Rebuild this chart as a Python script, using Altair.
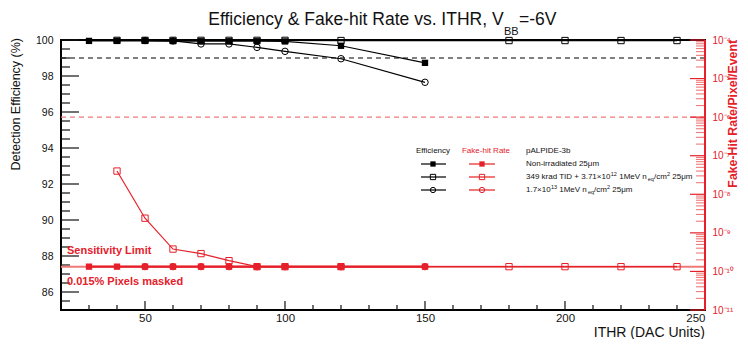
import altair as alt
import pandas as pd

# ---------------- data ----------------
ithr_nonirr = [30, 40, 50, 60, 70, 80, 90, 100, 120, 150]
eff_nonirr = [99.95, 99.95, 99.95, 99.94, 99.93, 99.93, 99.93, 99.92, 99.68, 98.73]
fhr_nonirr = [1.33e-10, 1.33e-10, 1.33e-10, 1.33e-10, 1.33e-10, 1.33e-10, 1.33e-10, 1.33e-10, 1.33e-10, 1.33e-10]

ithr_tid = [40, 50, 60, 70, 80, 90, 100, 120, 180, 200, 220, 240]
eff_tid = [99.98, 99.98, 99.98, 99.98, 99.98, 99.98, 99.98, 99.97, 99.97, 99.97, 99.97, 99.97]
fhr_tid = [4.0e-8, 2.4e-9, 3.8e-10, 2.9e-10, 1.9e-10, 1.33e-10, 1.33e-10, 1.33e-10, 1.33e-10, 1.33e-10, 1.33e-10, 1.33e-10]

ithr_neq = [50, 60, 70, 80, 90, 100, 120, 150]
eff_neq = [99.97, 99.95, 99.78, 99.78, 99.59, 99.37, 98.96, 97.65]
fhr_neq = [1.33e-10, 1.33e-10, 1.33e-10, 1.33e-10, 1.33e-10, 1.33e-10, 1.33e-10, 1.33e-10]

eff_target = [99.0]
fhr_target = [1e-6]
fhr_limit = [1.33e-10]

x_major = [50, 100, 150, 200, 250]
x_minor = [30, 40, 60, 70, 80, 90, 110, 120, 130, 140, 160, 170, 180, 190, 210, 220, 230, 240]
eff_major = [86, 88, 90, 92, 94, 96, 98, 100]
eff_minor = [85.5, 86.5, 87, 87.5, 88.5, 89, 89.5, 90.5, 91, 91.5, 92.5, 93, 93.5,
             94.5, 95, 95.5, 96.5, 97, 97.5, 98.5, 99, 99.5]
decades = [1e-11, 1e-10, 1e-9, 1e-8, 1e-7, 1e-6, 1e-5, 1e-4]
decade_labels = ["10⁻¹¹", "10⁻¹⁰", "10⁻⁹", "10⁻⁸", "10⁻⁷", "10⁻⁶", "10⁻⁵", "10⁻⁴"]
fhr_minor = [m * d for d in decades[:-1] for m in range(2, 10)]

# ---------------- styling ----------------
FONT = "Liberation Sans"
RED = "#e5202a"
LRED = "#f07a7a"
W, H = 644, 270

X = alt.X("ithr:Q", scale=alt.Scale(domain=[20, 250], nice=False, zero=False),
          axis=alt.Axis(values=x_major, title=None, ticks=False, tickSize=0, domain=False,
                        grid=False, labelFontSize=11.5, labelPadding=2, labelColor="#111",
                        labelFont=FONT))
YL = alt.Y("eff:Q", scale=alt.Scale(domain=[85, 100], nice=False, zero=False),
           axis=alt.Axis(orient="left", values=eff_major, title=None, ticks=False, tickSize=0,
                         domain=False, grid=False, labelFontSize=10.5, labelPadding=8,
                         labelColor="#111", labelFont=FONT, format="d"))

exp_e = "round(log(datum.value)/LN10)"
label_expr = " : ".join(
    f"{exp_e} == {e} ? '{lab}'" for e, lab in zip(range(-11, -3), decade_labels)) + " : ''"
YR = alt.Y("fhr:Q", scale=alt.Scale(type="log", domain=[1e-11, 1e-4], nice=False),
           axis=alt.Axis(orient="right", values=decades, title=None, ticks=False, tickSize=0,
                         domain=False, grid=False, labelFontSize=10, labelPadding=7,
                         labelColor=RED, labelFont=FONT, labelExpr=label_expr))

dummy = pd.DataFrame({"d": [0]})


def txt(text, x, y, size, color="#111", bold=False, align="left", angle=0, baseline="middle"):
    kw = dict(text=text, font=FONT, fontSize=size, color=color, align=align,
              baseline=baseline, angle=angle)
    if bold:
        kw["fontWeight"] = "bold"
    return alt.Chart(dummy).mark_text(**kw).encode(x=alt.value(x), y=alt.value(y))


# ---------------- efficiency (left axis) ----------------
df_e1 = pd.DataFrame({"ithr": ithr_nonirr, "eff": eff_nonirr})
df_e2 = pd.DataFrame({"ithr": ithr_tid, "eff": eff_tid})
df_e3 = pd.DataFrame({"ithr": ithr_neq, "eff": eff_neq})

left_layers = [
    alt.Chart(pd.DataFrame({"eff": eff_target})).mark_rule(color="#555", strokeWidth=1.3,
                                                          strokeDash=[5, 4]).encode(y=YL),
    alt.Chart(df_e2).mark_line(color="black", strokeWidth=1.2).encode(x=X, y=YL),
    alt.Chart(df_e3).mark_line(color="black", strokeWidth=1.2).encode(x=X, y=YL),
    alt.Chart(df_e1).mark_line(color="black", strokeWidth=1.2).encode(x=X, y=YL),
    alt.Chart(df_e2).mark_point(shape="square", filled=False, size=40, color="black",
                                strokeWidth=1, opacity=1).encode(x=X, y=YL),
    alt.Chart(df_e3).mark_point(shape="circle", filled=False, size=42, color="black",
                                strokeWidth=1, opacity=1).encode(x=X, y=YL),
    alt.Chart(df_e1).mark_point(shape="square", filled=True, size=40, color="black",
                                opacity=1).encode(x=X, y=YL),
    # left axis ticks (inward)
    alt.Chart(pd.DataFrame({"eff": eff_major})).mark_rule(color="#111", strokeWidth=1.2)
    .encode(y=YL, x=alt.value(0), x2=alt.value(18)),
    alt.Chart(pd.DataFrame({"eff": eff_minor})).mark_rule(color="#111", strokeWidth=1.2)
    .encode(y=YL, x=alt.value(0), x2=alt.value(9)),
    # x axis ticks (inward)
    alt.Chart(pd.DataFrame({"ithr": x_major})).mark_rule(color="#111", strokeWidth=1.2)
    .encode(x=X, y=alt.value(H), y2=alt.value(H - 9)),
    alt.Chart(pd.DataFrame({"ithr": x_minor})).mark_rule(color="#111", strokeWidth=1.2)
    .encode(x=X, y=alt.value(H), y2=alt.value(H - 5)),
]

# ---------------- fake-hit rate (right axis) ----------------
df_f1 = pd.DataFrame({"ithr": ithr_nonirr, "fhr": fhr_nonirr})
df_f2 = pd.DataFrame({"ithr": ithr_tid, "fhr": fhr_tid})
df_f3 = pd.DataFrame({"ithr": ithr_neq, "fhr": fhr_neq})

right_layers = [
    alt.Chart(pd.DataFrame({"fhr": fhr_target})).mark_rule(color=LRED, strokeWidth=1.3,
                                                          strokeDash=[5, 4]).encode(y=YR),
    alt.Chart(pd.DataFrame({"fhr": fhr_limit})).mark_rule(color=LRED, strokeWidth=2).encode(y=YR),
    alt.Chart(df_f2).mark_line(color=RED, strokeWidth=1.2).encode(x=X, y=YR),
    alt.Chart(df_f3).mark_line(color=RED, strokeWidth=1.2).encode(x=X, y=YR),
    alt.Chart(df_f1).mark_line(color=RED, strokeWidth=2.2).encode(x=X, y=YR),
    alt.Chart(df_f2).mark_point(shape="square", filled=False, size=40, color=RED,
                                strokeWidth=1, opacity=1).encode(x=X, y=YR),
    alt.Chart(df_f3).mark_point(shape="circle", filled=False, size=42, color=RED,
                                strokeWidth=1, opacity=1).encode(x=X, y=YR),
    alt.Chart(df_f1).mark_point(shape="square", filled=True, size=40, color=RED,
                                opacity=1).encode(x=X, y=YR),
    alt.Chart(pd.DataFrame({"fhr": decades})).mark_rule(color=RED, strokeWidth=1.2)
    .encode(y=YR, x=alt.value(W), x2=alt.value(W - 15)),
    alt.Chart(pd.DataFrame({"fhr": fhr_minor})).mark_rule(color=LRED, strokeWidth=1.1)
    .encode(y=YR, x=alt.value(W), x2=alt.value(W - 9)),
    alt.Chart(dummy).mark_rule(color=RED, strokeWidth=2)
    .encode(x=alt.value(W), y=alt.value(0), y2=alt.value(H)),
]

# ---------------- texts, legend ----------------
ann = [
    txt("Efficiency & Fake-hit Rate vs. ITHR, V", 442.6, -15, 17.5, align="right",
        baseline="alphabetic"),
    txt("BB", 443, -5, 11, baseline="alphabetic"),
    txt("=-6V", 458, -15, 17.5, baseline="alphabetic"),
    txt("Detection Efficiency (%)", -45, -2, 12.5, align="right", angle=270),
    txt("Fake-Hit Rate/Pixel/Event", 672, 0, 12.3, color=RED, bold=True, align="right",
        angle=270),
    txt("ITHR (DAC Units)", W, 297, 14, align="right", baseline="alphabetic"),
    txt("Sensitivity Limit", 6, 211, 11, color=RED, bold=True),
    txt("0.015% Pixels masked", 6, 242, 11, color=RED, bold=True),
    # legend header
    txt("Efficiency", 372, 111, 8, align="center"),
    txt("Fake-hit Rate", 425, 111, 8, color=RED, align="center"),
    txt("pALPIDE-3b", 465, 111, 8),
]

rows_y = [124, 137, 150]
shapes = [("square", True), ("square", False), ("circle", False)]
for ry, (shp, fil) in zip(rows_y, shapes):
    ann.append(alt.Chart(dummy).mark_rule(color="black", strokeWidth=1.2)
               .encode(x=alt.value(360), x2=alt.value(385), y=alt.value(ry)))
    ann.append(alt.Chart(dummy).mark_point(shape=shp, filled=fil, size=28, color="black",
                                           strokeWidth=1, opacity=1)
               .encode(x=alt.value(372), y=alt.value(ry)))
    ann.append(alt.Chart(dummy).mark_rule(color=LRED, strokeWidth=2)
               .encode(x=alt.value(408), x2=alt.value(434), y=alt.value(ry)))
    ann.append(alt.Chart(dummy).mark_point(shape=shp, filled=fil, size=28, color=RED,
                                           strokeWidth=1, opacity=1)
               .encode(x=alt.value(421), y=alt.value(ry)))

# legend labels (super/subscripts as separate pieces; no leading spaces since SVG trims them)
ann.append(txt("Non-irradiated 25μm", 465, rows_y[0], 8))
r2 = rows_y[1]
ann += [
    txt("349 krad TID + 3.71×10", 465, r2, 8),
    txt("12", 549.8, r2 - 3, 5.5),
    txt("1MeV n", 558.2, r2, 8),
    txt("eq", 586.8, r2 + 2, 5.5),
    txt("/cm", 593, r2, 8),
    txt("2", 606, r2 - 3, 5.5),
    txt("25μm", 611.3, r2, 8),
]
r3 = rows_y[2]
ann += [
    txt("1.7×10", 465, r3, 8),
    txt("13", 489.9, r3 - 3, 5.5),
    txt("1MeV n", 498.2, r3, 8),
    txt("eq", 526.9, r3 + 2, 5.5),
    txt("/cm", 533, r3, 8),
    txt("2", 546, r3 - 3, 5.5),
    txt("25μm", 551.3, r3, 8),
]

left = alt.layer(*left_layers, *ann)
right = alt.layer(*right_layers)

chart = (
    alt.layer(left, right)
    .resolve_scale(y="independent")
    .properties(width=W, height=H,
                padding={"left": 53, "top": 32, "right": 35, "bottom": 29},
                autosize=alt.AutoSizeParams(type="none"))
    .configure_view(stroke="black", strokeWidth=2)
)

chart.save("out.html", embed_options={"renderer": "svg", "actions": False})
